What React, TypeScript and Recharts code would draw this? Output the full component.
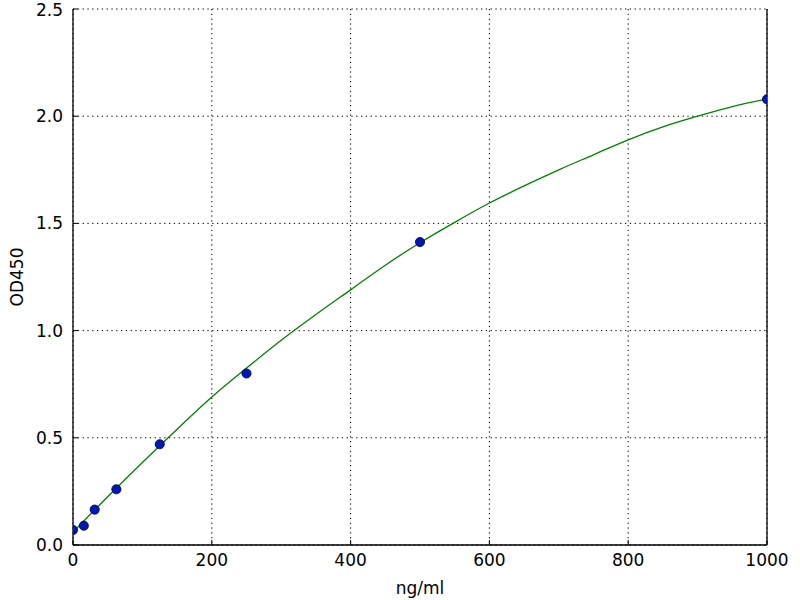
import React from 'react';
import {
  ComposedChart, Line, Scatter, XAxis, YAxis, CartesianGrid,
} from 'recharts';

// standard curve (measured points)
const CONC = [0, 15.6, 31.25, 62.5, 125, 250, 500, 1000];
const OD = [0.07, 0.09, 0.165, 0.26, 0.47, 0.80, 1.413, 2.079];

// fitted curve, every 50 ng/ml
const FIT_X = [0, 50, 100, 150, 200, 250, 300, 350, 400, 450, 500, 550, 600, 650, 700, 750, 800, 850, 900, 950, 1000];
const FIT_Y = [0.06, 0.225, 0.385, 0.54, 0.69, 0.825, 0.955, 1.075, 1.19, 1.305, 1.41, 1.505, 1.595, 1.675, 1.75, 1.82, 1.89, 1.95, 2.0, 2.045, 2.08];

const X_TICKS = [0, 200, 400, 600, 800, 1000];
const Y_TICKS = [0, 0.5, 1.0, 1.5, 2.0, 2.5];

const points = CONC.map((x, i) => ({ x, y: OD[i] }));
const curve = FIT_X.map((x, i) => ({ x, y: FIT_Y[i] }));

const FONT = '"DejaVu Sans", sans-serif';
const tickStyle = { fill: '#000', fontSize: 17, fontFamily: FONT };
const axisLine = { stroke: '#000', strokeWidth: 1.3 };
const tickLine = { stroke: '#000', strokeWidth: 1 };

const Dot = (props: any) => (
  <circle cx={props.cx} cy={props.cy} r={4.6} fill="#0016b8" stroke="#000033" strokeWidth={0.8} />
);

export default function App() {
  return (
    <div style={{ position: 'absolute', left: 0, top: 0, background: '#fff' }}>
      <ComposedChart
        width={800}
        height={600}
        margin={{ top: 9, right: 0, bottom: 0, left: 0 }}
      >
        <CartesianGrid
          stroke="#000"
          strokeWidth={1}
          strokeDasharray="1.3 3.5"
          horizontalValues={Y_TICKS}
          verticalValues={X_TICKS}
        />
        <XAxis
          dataKey="x"
          type="number"
          domain={[0, 1000]}
          ticks={X_TICKS}
          allowDataOverflow
          height={55}
          tick={tickStyle}
          tickSize={-5}
          tickMargin={14}
          axisLine={axisLine}
          tickLine={tickLine}
          label={{ value: 'ng/ml', position: 'insideBottom', offset: 6, fill: '#000', fontSize: 17, fontFamily: FONT }}
        />
        <XAxis
          xAxisId="top"
          orientation="top"
          dataKey="x"
          type="number"
          domain={[0, 1000]}
          ticks={X_TICKS}
          height={0}
          tickSize={-5}
          tickFormatter={() => ''}
          axisLine={axisLine}
          tickLine={tickLine}
        />
        <YAxis
          dataKey="y"
          type="number"
          domain={[0, 2.5]}
          ticks={Y_TICKS}
          allowDataOverflow
          width={73}
          tick={tickStyle}
          tickSize={-5}
          tickMargin={15}
          tickFormatter={(v: number) => v.toFixed(1)}
          axisLine={axisLine}
          tickLine={tickLine}
          label={{ value: 'OD450', angle: -90, position: 'insideLeft', offset: 17, fill: '#000', fontSize: 17, fontFamily: FONT, style: { textAnchor: 'middle' } }}
        />
        <YAxis
          yAxisId="right"
          orientation="right"
          dataKey="y"
          type="number"
          domain={[0, 2.5]}
          ticks={Y_TICKS}
          width={33}
          tickSize={-5}
          tickFormatter={() => ''}
          axisLine={axisLine}
          tickLine={tickLine}
        />
        <Line
          data={curve}
          dataKey="y"
          type="monotone"
          stroke="#008000"
          strokeWidth={1.3}
          dot={false}
          activeDot={false}
          isAnimationActive={false}
        />
        <Scatter
          data={points}
          dataKey="y"
          shape={<Dot />}
          isAnimationActive={false}
        />
      </ComposedChart>
    </div>
  );
}
